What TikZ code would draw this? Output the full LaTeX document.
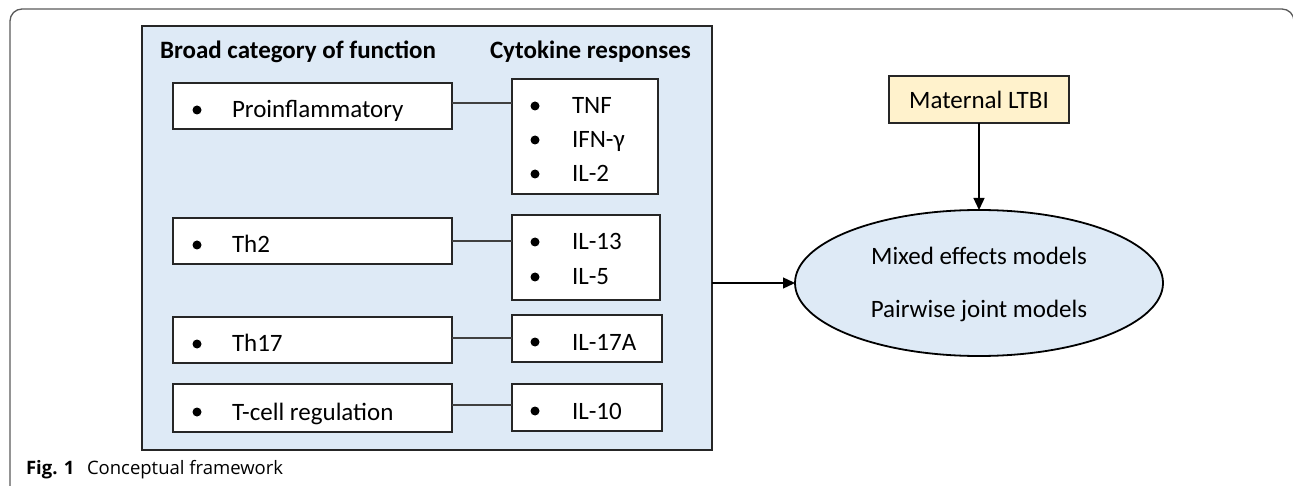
\documentclass[tikz,border=0pt]{standalone}
\usepackage{fontspec}
\setmainfont{Carlito}
\newfontfamily\capfont{Open Sans}
\usetikzlibrary{arrows.meta,shapes.geometric}

\definecolor{panelblue}{HTML}{DEEAF6}
\definecolor{lightcream}{HTML}{FFF2CC}
\definecolor{edgegray}{HTML}{262626}
\definecolor{linkgray}{HTML}{404040}
\definecolor{framegray}{HTML}{5A5A5A}

\tikzset{
  base/.style={inner sep=0pt, outer sep=0pt},
  txt/.style={base, anchor=base west, font=\fontsize{25}{30}\selectfont},
  bul/.style={base, circle, fill=black, minimum size=9pt},
  head/.style={base, anchor=base west, font=\fontsize{25}{30}\selectfont\bfseries},
  ctr/.style={base, anchor=base, font=\fontsize{25}{30}\selectfont},
  catbox/.style={base, draw=edgegray, line width=1.8pt, fill=white, rectangle},
  panel/.style={base, draw=edgegray, line width=1.8pt, fill=panelblue, rectangle},
  link/.style={draw=linkgray, line width=1.3pt},
  arr/.style={draw=black, line width=1.3pt, -{Triangle[length=12pt,width=11pt]}},
  capt/.style={base, anchor=base west, font=\capfont\fontsize{18.5}{22}\selectfont},
}

\begin{document}
\begin{tikzpicture}[x=1pt,y=-1pt]
\useasboundingbox (0,0) rectangle (1293,486);

% outer figure frame, open at the bottom
\draw[framegray, line width=1.3pt, rounded corners=12pt]
  (10,495) -- (10,9) -- (1294,9) -- (1294,495);

% blue panel with the two columns
\node[panel, minimum width=570pt, minimum height=424pt] (panel) at (427,238) {};
\node[head] (h1) at (160,59) {Broad category of function};
\node[head] (h2) at (490,59) {Cytokine responses};

% left column: broad categories
\node[catbox, minimum width=279pt, minimum height=46pt] (pro) at (312.5,106) {};
\node[catbox, minimum width=279pt, minimum height=46pt] (th2) at (312.5,241) {};
\node[catbox, minimum width=279pt, minimum height=46pt] (th17) at (312.5,340) {};
\node[catbox, minimum width=279pt, minimum height=48pt] (treg) at (312.5,408) {};

\node[bul] (b1) at (197,110) {};  \node[txt] (t1) at (232,118) {Proinflammatory};
\node[bul] (b2) at (197,245) {};  \node[txt] (t2) at (232,253) {Th2};
\node[bul] (b3) at (197,344) {};  \node[txt] (t3) at (232,352) {Th17};
\node[bul] (b4) at (197,412) {};  \node[txt] (t4) at (232,420) {T-cell regulation};

% right column: cytokines
\node[catbox, minimum width=146pt, minimum height=115pt] (c1) at (585,136.5) {};
\node[catbox, minimum width=148pt, minimum height=85pt] (c2) at (586,257.5) {};
\node[catbox, minimum width=150pt, minimum height=47pt] (c3) at (587,338.5) {};
\node[catbox, minimum width=150pt, minimum height=47pt] (c4) at (587,407.5) {};

\node[bul] (cb1) at (535,106) {};  \node[txt] (ct1) at (572,114) {TNF};
\node[bul] (cb2) at (535,140) {};  \node[txt] (ct2) at (572,148) {IFN-γ};
\node[bul] (cb3) at (535,174) {};  \node[txt] (ct3) at (572,182) {IL-2};
\node[bul] (cb4) at (535,242) {};  \node[txt] (ct4) at (572,250) {IL-13};
\node[bul] (cb5) at (535,277) {};  \node[txt] (ct5) at (572,285) {IL-5};
\node[bul] (cb6) at (535,342) {};  \node[txt] (ct6) at (572,350) {IL-17A};
\node[bul] (cb7) at (535,411) {};  \node[txt] (ct7) at (572,419) {IL-10};

% category-to-cytokine links
\draw[link] (pro.east) ++(0,-3) coordinate (p1) -- (p1 -| c1.west);
\draw[link] (th2.east) -- (th2.east -| c2.west);
\draw[link] (th17.east) ++(0,-2) coordinate (p3) -- (p3 -| c3.west);
\draw[link] (treg.east) ++(0,-3) coordinate (p4) -- (p4 -| c4.west);

% models and exposure
\node[base, ellipse, draw=black, line width=1.8pt, fill=panelblue,
      minimum width=368pt, minimum height=146pt] (models) at (979,283) {};
\node[ctr] (m1) at (979,265) {Mixed effects models};
\node[ctr] (m2) at (979,317) {Pairwise joint models};

\node[base, draw=edgegray, line width=1.8pt, fill=lightcream,
      minimum width=180pt, minimum height=47pt,
      font=\fontsize{25}{30}\selectfont] (ltbi) at (979,99.5) {Maternal LTBI};

\draw[arr] (ltbi.south) -- (models.north);
\draw[arr] (models.west -| panel.east) -- (models.west);

% caption
\node[capt, font=\capfont\fontsize{18.5}{22}\selectfont\bfseries] (figlab) at (26,474) {Fig. 1};
\node[capt] (figcap) at (87,474) {Conceptual framework};
\end{tikzpicture}
\end{document}
